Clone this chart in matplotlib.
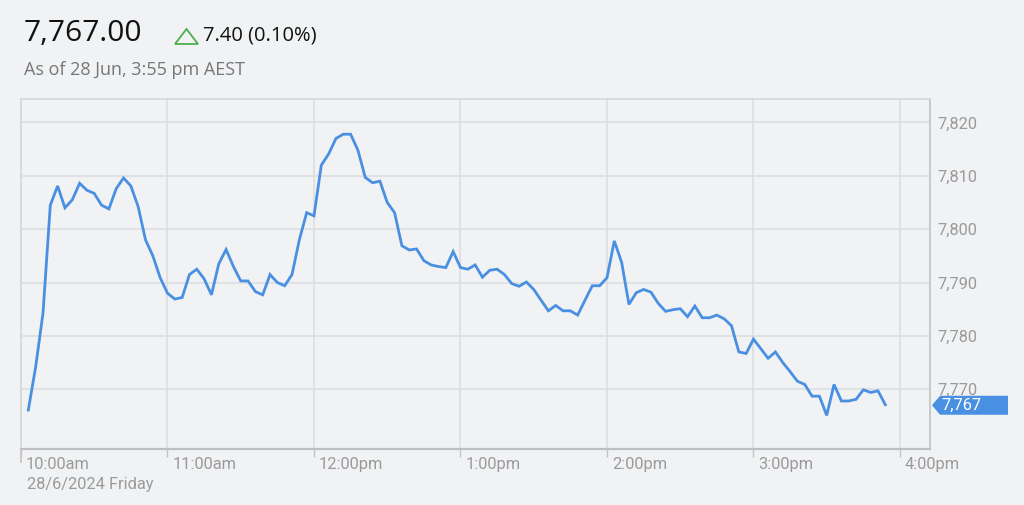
import matplotlib
matplotlib.use("Agg")
import matplotlib.pyplot as plt
from matplotlib.patches import Polygon
from matplotlib.lines import Line2D
from matplotlib.transforms import ScaledTranslation
from matplotlib.ticker import FuncFormatter

# ---------------- data ----------------
times = ["10:03", "10:06", "10:09", "10:12", "10:15", "10:18", "10:21", "10:24", "10:27", "10:30",
         "10:33", "10:36", "10:39", "10:42", "10:45", "10:48", "10:51", "10:54", "10:57", "11:00",
         "11:03", "11:06", "11:09", "11:12", "11:15", "11:18", "11:21", "11:24", "11:27", "11:30",
         "11:33", "11:36", "11:39", "11:42", "11:45", "11:48", "11:51", "11:54", "11:57", "12:00",
         "12:03", "12:06", "12:09", "12:12", "12:15", "12:18", "12:21", "12:24", "12:27", "12:30",
         "12:33", "12:36", "12:39", "12:42", "12:45", "12:48", "12:51", "12:54", "12:57", "13:00",
         "13:03", "13:06", "13:09", "13:12", "13:15", "13:18", "13:21", "13:24", "13:27", "13:30",
         "13:33", "13:36", "13:39", "13:42", "13:45", "13:48", "13:51", "13:54", "13:57", "14:00",
         "14:03", "14:06", "14:09", "14:12", "14:15", "14:18", "14:21", "14:24", "14:27", "14:30",
         "14:33", "14:36", "14:39", "14:42", "14:45", "14:48", "14:51", "14:54", "14:57", "15:00",
         "15:03", "15:06", "15:09", "15:12", "15:15", "15:18", "15:21", "15:24", "15:27", "15:30",
         "15:33", "15:36", "15:39", "15:42", "15:45", "15:48", "15:51", "15:54"]
values = [7766.1, 7774.2, 7784.2, 7804.5, 7808.1, 7804.0, 7805.5, 7808.6, 7807.3, 7806.7,
          7804.5, 7803.8, 7807.6, 7809.6, 7808.1, 7804.2, 7798.0, 7795.0, 7790.9, 7788.0,
          7786.9, 7787.2, 7791.5, 7792.5, 7790.7, 7787.7, 7793.5, 7796.2, 7793.0, 7790.3,
          7790.3, 7788.3, 7787.7, 7791.5, 7790.0, 7789.4, 7791.5, 7798.0, 7803.1, 7802.5,
          7812.0, 7814.1, 7817.0, 7817.8, 7817.8, 7814.8, 7809.7, 7808.7, 7809.0, 7805.0,
          7803.1, 7796.9, 7796.1, 7796.3, 7794.1, 7793.3, 7793.0, 7792.8, 7795.8, 7792.8,
          7792.5, 7793.3, 7791.0, 7792.3, 7792.5, 7791.5, 7789.8, 7789.3, 7790.1, 7788.7,
          7786.7, 7784.7, 7785.7, 7784.7, 7784.7, 7783.9, 7786.7, 7789.4, 7789.4, 7790.9,
          7797.8, 7793.8, 7785.9, 7788.1, 7788.7, 7788.2, 7786.1, 7784.6, 7784.9, 7785.1,
          7783.6, 7785.6, 7783.4, 7783.4, 7783.9, 7783.2, 7781.9, 7777.0, 7776.7, 7779.4,
          7777.6, 7775.8, 7777.0, 7775.0, 7773.3, 7771.5, 7770.9, 7768.7, 7768.7, 7765.1,
          7770.9, 7767.8, 7767.8, 7768.1, 7769.9, 7769.4, 7769.7, 7767.1]
tick_times = ["10:00", "11:00", "12:00", "13:00", "14:00", "15:00", "16:00"]
tick_labels = ["10:00am", "11:00am", "12:00pm", "1:00pm", "2:00pm", "3:00pm", "4:00pm"]
y_ticks = [7770, 7780, 7790, 7800, 7810, 7820]
last_price = 7767
header_price = "7,767.00"
header_change = "7.40 (0.10%)"
header_asof = "As of 28 Jun, 3:55 pm AEST"
date_label = "28/6/2024 Friday"


def to_min(s):
    h, m = s.split(":")
    return (int(h) - 10) * 60 + int(m)


xs = [to_min(t) for t in times]
tick_x = [to_min(t) for t in tick_times]

# ---------------- style ----------------
BG = "#f1f2f4"
LINE = "#4a90e2"
GRID = "#dcdde0"
TXT = "#9a9a9a"
FS = 11.8
W, H = 1024, 505

fig = plt.figure(figsize=(W / 100, H / 100), dpi=100, facecolor=BG)
L, R, T, B = 21, 930, 99, 449
ax = fig.add_axes([L / W, 1 - B / H, (R - L) / W, (B - T) / H], facecolor=BG)

ax.plot(xs, values, color=LINE, lw=2.0, solid_joinstyle="miter", zorder=3)
ax.set_xlim(0, 372.3)
ax.set_ylim(7758.8, 7824.4)

ax.set_xticks(tick_x)
ax.set_xticklabels(tick_labels, ha="left", fontsize=FS, color=TXT, family="Roboto")
ax.tick_params(axis="x", length=6, width=1, color="#c4c4c4", pad=0)
for lab in ax.get_xticklabels():
    lab.set_transform(lab.get_transform() + ScaledTranslation(5 / 100, 0, fig.dpi_scale_trans))

ax.yaxis.tick_right()
ax.set_yticks(y_ticks)
ax.yaxis.set_major_formatter(FuncFormatter(lambda v, p: f"{v:,.0f}"))
ax.tick_params(axis="y", length=0, pad=5, labelsize=FS, labelcolor=TXT)
for lab in ax.get_yticklabels():
    lab.set_family("Roboto")

ax.grid(True, color=GRID, lw=1.1, zorder=0)
for side in ["left", "top"]:
    ax.spines[side].set_color("#d6d7da")
    ax.spines[side].set_linewidth(1.2)
ax.spines["right"].set_color("#c4c5c8")
ax.spines["right"].set_linewidth(1.3)
ax.spines["bottom"].set_color("#bdbec1")
ax.spines["bottom"].set_linewidth(1.6)

# longer first tick (session start)
fig.lines.append(Line2D([L, L], [H - B, H - 462], transform=None, color="#c4c4c4", lw=1.2))

# price tag
fig.canvas.draw()
_, ypix = ax.transData.transform((0, last_price))
xpix = ax.transAxes.transform((1, 0))[0] + 2
h2 = 9.5
tag = Polygon([(xpix, ypix), (xpix + 8, ypix + h2), (xpix + 76, ypix + h2),
               (xpix + 76, ypix - h2), (xpix + 8, ypix - h2)],
              closed=True, transform=None, facecolor=LINE, edgecolor="none", zorder=5)
fig.patches.append(tag)
fig.text((xpix + 9) / W, ypix / H, f"{last_price:,}", color="white", fontsize=FS,
         family="Roboto", ha="left", va="center", zorder=6)

# header
fig.text(24 / W, 1 - 33 / H, header_price, fontsize=21.5, color="#111111",
         family="Open Sans", weight="medium", ha="left", va="center")
tri = Polygon([(175, H - 44), (198, H - 44), (186.5, H - 29)], closed=True, transform=None,
              facecolor="none", edgecolor="#4caf50", lw=1.3)
fig.patches.append(tri)
fig.text(203 / W, 1 - 36 / H, header_change, fontsize=14.5, color="#111111",
         family="Open Sans", ha="left", va="center")
fig.text(24 / W, 1 - 70 / H, header_asof, fontsize=13, color="#777777",
         family="Open Sans", ha="left", va="center")
fig.text(27 / W, 1 - 484 / H, date_label, fontsize=FS, color=TXT,
         family="Roboto", ha="left", va="center")

fig.savefig("out.png", dpi=100, facecolor=BG)
